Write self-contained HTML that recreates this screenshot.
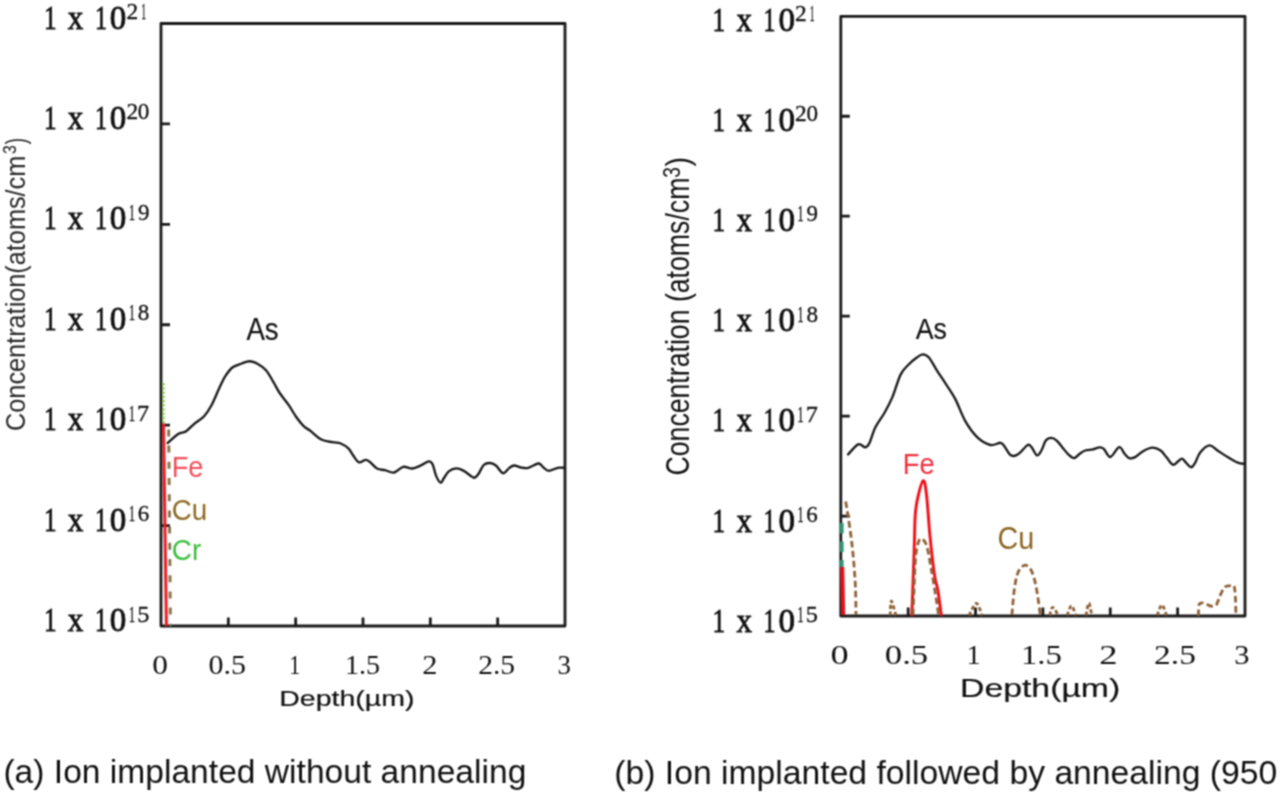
<!DOCTYPE html>
<html><head><meta charset="utf-8"><style>
html,body{margin:0;padding:0;background:#fff;}
svg{display:block;}
text{font-kerning:none;font-variant-ligatures:none;}
</style></head><body>
<svg width="1280" height="792" viewBox="0 0 1280 792">
<defs><filter id="soft" x="0" y="0" width="1280" height="792" filterUnits="userSpaceOnUse" color-interpolation-filters="sRGB"><feConvolveMatrix order="3" kernelMatrix="1 2 1 2 4 2 1 2 1" divisor="16" edgeMode="duplicate"/></filter></defs>
<g filter="url(#soft)">
<rect x="0" y="0" width="1280" height="792" fill="#fff"/>
<rect x="161.00" y="23.50" width="404.00" height="602.50" fill="none" stroke="#1a1a1a" stroke-width="2.8" stroke-linejoin="round"/>
<path d="M161.00 123.92H170.00 M161.00 224.33H170.00 M161.00 324.75H170.00 M161.00 425.17H170.00 M161.00 525.58H170.00 M228.33 626.00V617.50 M295.67 626.00V617.50 M363.00 626.00V617.50 M430.33 626.00V617.50 M497.67 626.00V617.50" stroke="#1a1a1a" stroke-width="2.8" fill="none"/>
<text x="43.88" y="28.60" font-family='"Liberation Serif", serif' font-size="33.00" textLength="12.64" lengthAdjust="spacingAndGlyphs" fill="#111" stroke="#111" stroke-width="0.80">1</text>
<text x="67.83" y="28.60" font-family='"Liberation Serif", serif' font-size="33.00" textLength="15.55" lengthAdjust="spacingAndGlyphs" fill="#111" stroke="#111" stroke-width="0.80">x</text>
<text x="94.90" y="28.60" font-family='"Liberation Serif", serif' font-size="33.00" textLength="11.93" lengthAdjust="spacingAndGlyphs" fill="#111" stroke="#111" stroke-width="0.80">1</text>
<text x="109.84" y="28.60" font-family='"Liberation Serif", serif' font-size="33.00" textLength="16.52" lengthAdjust="spacingAndGlyphs" fill="#111" stroke="#111" stroke-width="0.80">0</text>
<text x="126.47" y="19.00" font-family='"Liberation Serif", serif' font-size="23.60" textLength="11.72" lengthAdjust="spacingAndGlyphs" fill="#111" stroke="#111" stroke-width="0.30">2</text>
<text x="141.15" y="19.00" font-family='"Liberation Serif", serif' font-size="23.60" textLength="4.83" lengthAdjust="spacingAndGlyphs" fill="#111" stroke="#111" stroke-width="0.30">1</text>
<text x="43.88" y="129.02" font-family='"Liberation Serif", serif' font-size="33.00" textLength="12.64" lengthAdjust="spacingAndGlyphs" fill="#111" stroke="#111" stroke-width="0.80">1</text>
<text x="67.83" y="129.02" font-family='"Liberation Serif", serif' font-size="33.00" textLength="15.55" lengthAdjust="spacingAndGlyphs" fill="#111" stroke="#111" stroke-width="0.80">x</text>
<text x="94.90" y="129.02" font-family='"Liberation Serif", serif' font-size="33.00" textLength="11.93" lengthAdjust="spacingAndGlyphs" fill="#111" stroke="#111" stroke-width="0.80">1</text>
<text x="109.84" y="129.02" font-family='"Liberation Serif", serif' font-size="33.00" textLength="16.52" lengthAdjust="spacingAndGlyphs" fill="#111" stroke="#111" stroke-width="0.80">0</text>
<text x="126.47" y="119.42" font-family='"Liberation Serif", serif' font-size="23.60" textLength="11.72" lengthAdjust="spacingAndGlyphs" fill="#111" stroke="#111" stroke-width="0.30">2</text>
<text x="137.82" y="119.42" font-family='"Liberation Serif", serif' font-size="23.60" textLength="11.56" lengthAdjust="spacingAndGlyphs" fill="#111" stroke="#111" stroke-width="0.30">0</text>
<text x="43.88" y="229.43" font-family='"Liberation Serif", serif' font-size="33.00" textLength="12.64" lengthAdjust="spacingAndGlyphs" fill="#111" stroke="#111" stroke-width="0.80">1</text>
<text x="67.83" y="229.43" font-family='"Liberation Serif", serif' font-size="33.00" textLength="15.55" lengthAdjust="spacingAndGlyphs" fill="#111" stroke="#111" stroke-width="0.80">x</text>
<text x="94.90" y="229.43" font-family='"Liberation Serif", serif' font-size="33.00" textLength="11.93" lengthAdjust="spacingAndGlyphs" fill="#111" stroke="#111" stroke-width="0.80">1</text>
<text x="109.84" y="229.43" font-family='"Liberation Serif", serif' font-size="33.00" textLength="16.52" lengthAdjust="spacingAndGlyphs" fill="#111" stroke="#111" stroke-width="0.80">0</text>
<text x="128.68" y="219.83" font-family='"Liberation Serif", serif' font-size="23.60" textLength="6.39" lengthAdjust="spacingAndGlyphs" fill="#111" stroke="#111" stroke-width="0.30">1</text>
<text x="137.96" y="219.83" font-family='"Liberation Serif", serif' font-size="23.60" textLength="11.48" lengthAdjust="spacingAndGlyphs" fill="#111" stroke="#111" stroke-width="0.30">9</text>
<text x="43.88" y="329.85" font-family='"Liberation Serif", serif' font-size="33.00" textLength="12.64" lengthAdjust="spacingAndGlyphs" fill="#111" stroke="#111" stroke-width="0.80">1</text>
<text x="67.83" y="329.85" font-family='"Liberation Serif", serif' font-size="33.00" textLength="15.55" lengthAdjust="spacingAndGlyphs" fill="#111" stroke="#111" stroke-width="0.80">x</text>
<text x="94.90" y="329.85" font-family='"Liberation Serif", serif' font-size="33.00" textLength="11.93" lengthAdjust="spacingAndGlyphs" fill="#111" stroke="#111" stroke-width="0.80">1</text>
<text x="109.84" y="329.85" font-family='"Liberation Serif", serif' font-size="33.00" textLength="16.52" lengthAdjust="spacingAndGlyphs" fill="#111" stroke="#111" stroke-width="0.80">0</text>
<text x="128.68" y="320.25" font-family='"Liberation Serif", serif' font-size="23.60" textLength="6.39" lengthAdjust="spacingAndGlyphs" fill="#111" stroke="#111" stroke-width="0.30">1</text>
<text x="137.82" y="320.25" font-family='"Liberation Serif", serif' font-size="23.60" textLength="11.56" lengthAdjust="spacingAndGlyphs" fill="#111" stroke="#111" stroke-width="0.30">8</text>
<text x="43.88" y="430.27" font-family='"Liberation Serif", serif' font-size="33.00" textLength="12.64" lengthAdjust="spacingAndGlyphs" fill="#111" stroke="#111" stroke-width="0.80">1</text>
<text x="67.83" y="430.27" font-family='"Liberation Serif", serif' font-size="33.00" textLength="15.55" lengthAdjust="spacingAndGlyphs" fill="#111" stroke="#111" stroke-width="0.80">x</text>
<text x="94.90" y="430.27" font-family='"Liberation Serif", serif' font-size="33.00" textLength="11.93" lengthAdjust="spacingAndGlyphs" fill="#111" stroke="#111" stroke-width="0.80">1</text>
<text x="109.84" y="430.27" font-family='"Liberation Serif", serif' font-size="33.00" textLength="16.52" lengthAdjust="spacingAndGlyphs" fill="#111" stroke="#111" stroke-width="0.80">0</text>
<text x="128.68" y="420.67" font-family='"Liberation Serif", serif' font-size="23.60" textLength="6.39" lengthAdjust="spacingAndGlyphs" fill="#111" stroke="#111" stroke-width="0.30">1</text>
<text x="137.11" y="420.67" font-family='"Liberation Serif", serif' font-size="23.60" textLength="12.09" lengthAdjust="spacingAndGlyphs" fill="#111" stroke="#111" stroke-width="0.30">7</text>
<text x="43.88" y="530.68" font-family='"Liberation Serif", serif' font-size="33.00" textLength="12.64" lengthAdjust="spacingAndGlyphs" fill="#111" stroke="#111" stroke-width="0.80">1</text>
<text x="67.83" y="530.68" font-family='"Liberation Serif", serif' font-size="33.00" textLength="15.55" lengthAdjust="spacingAndGlyphs" fill="#111" stroke="#111" stroke-width="0.80">x</text>
<text x="94.90" y="530.68" font-family='"Liberation Serif", serif' font-size="33.00" textLength="11.93" lengthAdjust="spacingAndGlyphs" fill="#111" stroke="#111" stroke-width="0.80">1</text>
<text x="109.84" y="530.68" font-family='"Liberation Serif", serif' font-size="33.00" textLength="16.52" lengthAdjust="spacingAndGlyphs" fill="#111" stroke="#111" stroke-width="0.80">0</text>
<text x="128.68" y="521.08" font-family='"Liberation Serif", serif' font-size="23.60" textLength="6.39" lengthAdjust="spacingAndGlyphs" fill="#111" stroke="#111" stroke-width="0.30">1</text>
<text x="137.71" y="521.08" font-family='"Liberation Serif", serif' font-size="23.60" textLength="11.47" lengthAdjust="spacingAndGlyphs" fill="#111" stroke="#111" stroke-width="0.30">6</text>
<text x="43.88" y="631.10" font-family='"Liberation Serif", serif' font-size="33.00" textLength="12.64" lengthAdjust="spacingAndGlyphs" fill="#111" stroke="#111" stroke-width="0.80">1</text>
<text x="67.83" y="631.10" font-family='"Liberation Serif", serif' font-size="33.00" textLength="15.55" lengthAdjust="spacingAndGlyphs" fill="#111" stroke="#111" stroke-width="0.80">x</text>
<text x="94.90" y="631.10" font-family='"Liberation Serif", serif' font-size="33.00" textLength="11.93" lengthAdjust="spacingAndGlyphs" fill="#111" stroke="#111" stroke-width="0.80">1</text>
<text x="109.84" y="631.10" font-family='"Liberation Serif", serif' font-size="33.00" textLength="16.52" lengthAdjust="spacingAndGlyphs" fill="#111" stroke="#111" stroke-width="0.80">0</text>
<text x="128.68" y="621.50" font-family='"Liberation Serif", serif' font-size="23.60" textLength="6.39" lengthAdjust="spacingAndGlyphs" fill="#111" stroke="#111" stroke-width="0.30">1</text>
<text x="137.29" y="621.50" font-family='"Liberation Serif", serif' font-size="23.60" textLength="12.16" lengthAdjust="spacingAndGlyphs" fill="#111" stroke="#111" stroke-width="0.30">5</text>
<text x="152.20" y="673.80" font-family='"Liberation Serif", serif' font-size="27.00" textLength="15.69" lengthAdjust="spacingAndGlyphs" fill="#111">0</text>
<text x="208.46" y="673.80" font-family='"Liberation Serif", serif' font-size="27.00" textLength="37.52" lengthAdjust="spacingAndGlyphs" fill="#111">0.5</text>
<text x="289.25" y="673.80" font-family='"Liberation Serif", serif' font-size="27.00" textLength="11.08" lengthAdjust="spacingAndGlyphs" fill="#111">1</text>
<text x="344.93" y="673.80" font-family='"Liberation Serif", serif' font-size="27.00" textLength="35.06" lengthAdjust="spacingAndGlyphs" fill="#111">1.5</text>
<text x="422.26" y="673.80" font-family='"Liberation Serif", serif' font-size="27.00" textLength="15.22" lengthAdjust="spacingAndGlyphs" fill="#111">2</text>
<text x="478.20" y="673.80" font-family='"Liberation Serif", serif' font-size="27.00" textLength="36.95" lengthAdjust="spacingAndGlyphs" fill="#111">2.5</text>
<text x="557.41" y="673.80" font-family='"Liberation Serif", serif' font-size="27.00" textLength="13.44" lengthAdjust="spacingAndGlyphs" fill="#111">3</text>
<text x="279.26" y="705.80" font-family='"Liberation Sans", sans-serif' font-size="22.80" textLength="135.31" lengthAdjust="spacingAndGlyphs" fill="#111" stroke="#111" stroke-width="0.20">Depth(µm)</text>
<text transform="translate(24.60 429.70) rotate(-90)" x="-1.28" y="0.00" font-family='"Liberation Sans", sans-serif' font-size="27.00" textLength="275.25" lengthAdjust="spacingAndGlyphs" fill="#2a2a2a">Concentration(atoms/cm</text>
<text transform="translate(24.60 429.70) rotate(-90)" x="275.80" y="-8.40" font-family='"Liberation Sans", sans-serif' font-size="18.50" textLength="8.80" lengthAdjust="spacingAndGlyphs" fill="#111">3</text>
<text transform="translate(24.60 429.70) rotate(-90)" x="285.39" y="0.00" font-family='"Liberation Sans", sans-serif' font-size="27.40" textLength="6.28" lengthAdjust="spacingAndGlyphs" fill="#111">)</text>
<rect x="840.80" y="16.30" width="404.20" height="599.70" fill="none" stroke="#1a1a1a" stroke-width="2.8" stroke-linejoin="round"/>
<path d="M840.80 116.25H849.80 M840.80 216.20H849.80 M840.80 316.15H849.80 M840.80 416.10H849.80 M840.80 516.05H849.80 M908.17 616.00V607.50 M975.53 616.00V607.50 M1042.90 616.00V607.50 M1110.27 616.00V607.50 M1177.63 616.00V607.50" stroke="#1a1a1a" stroke-width="2.8" fill="none"/>
<text x="712.48" y="30.50" font-family='"Liberation Serif", serif' font-size="33.00" textLength="12.64" lengthAdjust="spacingAndGlyphs" fill="#111" stroke="#111" stroke-width="0.80">1</text>
<text x="736.43" y="30.50" font-family='"Liberation Serif", serif' font-size="33.00" textLength="15.55" lengthAdjust="spacingAndGlyphs" fill="#111" stroke="#111" stroke-width="0.80">x</text>
<text x="763.50" y="30.50" font-family='"Liberation Serif", serif' font-size="33.00" textLength="11.93" lengthAdjust="spacingAndGlyphs" fill="#111" stroke="#111" stroke-width="0.80">1</text>
<text x="778.44" y="30.50" font-family='"Liberation Serif", serif' font-size="33.00" textLength="16.52" lengthAdjust="spacingAndGlyphs" fill="#111" stroke="#111" stroke-width="0.80">0</text>
<text x="795.07" y="20.90" font-family='"Liberation Serif", serif' font-size="23.60" textLength="11.72" lengthAdjust="spacingAndGlyphs" fill="#111" stroke="#111" stroke-width="0.30">2</text>
<text x="809.75" y="20.90" font-family='"Liberation Serif", serif' font-size="23.60" textLength="4.83" lengthAdjust="spacingAndGlyphs" fill="#111" stroke="#111" stroke-width="0.30">1</text>
<text x="712.48" y="130.73" font-family='"Liberation Serif", serif' font-size="33.00" textLength="12.64" lengthAdjust="spacingAndGlyphs" fill="#111" stroke="#111" stroke-width="0.80">1</text>
<text x="736.43" y="130.73" font-family='"Liberation Serif", serif' font-size="33.00" textLength="15.55" lengthAdjust="spacingAndGlyphs" fill="#111" stroke="#111" stroke-width="0.80">x</text>
<text x="763.50" y="130.73" font-family='"Liberation Serif", serif' font-size="33.00" textLength="11.93" lengthAdjust="spacingAndGlyphs" fill="#111" stroke="#111" stroke-width="0.80">1</text>
<text x="778.44" y="130.73" font-family='"Liberation Serif", serif' font-size="33.00" textLength="16.52" lengthAdjust="spacingAndGlyphs" fill="#111" stroke="#111" stroke-width="0.80">0</text>
<text x="795.07" y="121.13" font-family='"Liberation Serif", serif' font-size="23.60" textLength="11.72" lengthAdjust="spacingAndGlyphs" fill="#111" stroke="#111" stroke-width="0.30">2</text>
<text x="806.42" y="121.13" font-family='"Liberation Serif", serif' font-size="23.60" textLength="11.56" lengthAdjust="spacingAndGlyphs" fill="#111" stroke="#111" stroke-width="0.30">0</text>
<text x="712.48" y="230.96" font-family='"Liberation Serif", serif' font-size="33.00" textLength="12.64" lengthAdjust="spacingAndGlyphs" fill="#111" stroke="#111" stroke-width="0.80">1</text>
<text x="736.43" y="230.96" font-family='"Liberation Serif", serif' font-size="33.00" textLength="15.55" lengthAdjust="spacingAndGlyphs" fill="#111" stroke="#111" stroke-width="0.80">x</text>
<text x="763.50" y="230.96" font-family='"Liberation Serif", serif' font-size="33.00" textLength="11.93" lengthAdjust="spacingAndGlyphs" fill="#111" stroke="#111" stroke-width="0.80">1</text>
<text x="778.44" y="230.96" font-family='"Liberation Serif", serif' font-size="33.00" textLength="16.52" lengthAdjust="spacingAndGlyphs" fill="#111" stroke="#111" stroke-width="0.80">0</text>
<text x="797.28" y="221.36" font-family='"Liberation Serif", serif' font-size="23.60" textLength="6.39" lengthAdjust="spacingAndGlyphs" fill="#111" stroke="#111" stroke-width="0.30">1</text>
<text x="806.56" y="221.36" font-family='"Liberation Serif", serif' font-size="23.60" textLength="11.48" lengthAdjust="spacingAndGlyphs" fill="#111" stroke="#111" stroke-width="0.30">9</text>
<text x="712.48" y="331.19" font-family='"Liberation Serif", serif' font-size="33.00" textLength="12.64" lengthAdjust="spacingAndGlyphs" fill="#111" stroke="#111" stroke-width="0.80">1</text>
<text x="736.43" y="331.19" font-family='"Liberation Serif", serif' font-size="33.00" textLength="15.55" lengthAdjust="spacingAndGlyphs" fill="#111" stroke="#111" stroke-width="0.80">x</text>
<text x="763.50" y="331.19" font-family='"Liberation Serif", serif' font-size="33.00" textLength="11.93" lengthAdjust="spacingAndGlyphs" fill="#111" stroke="#111" stroke-width="0.80">1</text>
<text x="778.44" y="331.19" font-family='"Liberation Serif", serif' font-size="33.00" textLength="16.52" lengthAdjust="spacingAndGlyphs" fill="#111" stroke="#111" stroke-width="0.80">0</text>
<text x="797.28" y="321.59" font-family='"Liberation Serif", serif' font-size="23.60" textLength="6.39" lengthAdjust="spacingAndGlyphs" fill="#111" stroke="#111" stroke-width="0.30">1</text>
<text x="806.42" y="321.59" font-family='"Liberation Serif", serif' font-size="23.60" textLength="11.56" lengthAdjust="spacingAndGlyphs" fill="#111" stroke="#111" stroke-width="0.30">8</text>
<text x="712.48" y="431.42" font-family='"Liberation Serif", serif' font-size="33.00" textLength="12.64" lengthAdjust="spacingAndGlyphs" fill="#111" stroke="#111" stroke-width="0.80">1</text>
<text x="736.43" y="431.42" font-family='"Liberation Serif", serif' font-size="33.00" textLength="15.55" lengthAdjust="spacingAndGlyphs" fill="#111" stroke="#111" stroke-width="0.80">x</text>
<text x="763.50" y="431.42" font-family='"Liberation Serif", serif' font-size="33.00" textLength="11.93" lengthAdjust="spacingAndGlyphs" fill="#111" stroke="#111" stroke-width="0.80">1</text>
<text x="778.44" y="431.42" font-family='"Liberation Serif", serif' font-size="33.00" textLength="16.52" lengthAdjust="spacingAndGlyphs" fill="#111" stroke="#111" stroke-width="0.80">0</text>
<text x="797.28" y="421.82" font-family='"Liberation Serif", serif' font-size="23.60" textLength="6.39" lengthAdjust="spacingAndGlyphs" fill="#111" stroke="#111" stroke-width="0.30">1</text>
<text x="805.71" y="421.82" font-family='"Liberation Serif", serif' font-size="23.60" textLength="12.09" lengthAdjust="spacingAndGlyphs" fill="#111" stroke="#111" stroke-width="0.30">7</text>
<text x="712.48" y="531.65" font-family='"Liberation Serif", serif' font-size="33.00" textLength="12.64" lengthAdjust="spacingAndGlyphs" fill="#111" stroke="#111" stroke-width="0.80">1</text>
<text x="736.43" y="531.65" font-family='"Liberation Serif", serif' font-size="33.00" textLength="15.55" lengthAdjust="spacingAndGlyphs" fill="#111" stroke="#111" stroke-width="0.80">x</text>
<text x="763.50" y="531.65" font-family='"Liberation Serif", serif' font-size="33.00" textLength="11.93" lengthAdjust="spacingAndGlyphs" fill="#111" stroke="#111" stroke-width="0.80">1</text>
<text x="778.44" y="531.65" font-family='"Liberation Serif", serif' font-size="33.00" textLength="16.52" lengthAdjust="spacingAndGlyphs" fill="#111" stroke="#111" stroke-width="0.80">0</text>
<text x="797.28" y="522.05" font-family='"Liberation Serif", serif' font-size="23.60" textLength="6.39" lengthAdjust="spacingAndGlyphs" fill="#111" stroke="#111" stroke-width="0.30">1</text>
<text x="806.31" y="522.05" font-family='"Liberation Serif", serif' font-size="23.60" textLength="11.47" lengthAdjust="spacingAndGlyphs" fill="#111" stroke="#111" stroke-width="0.30">6</text>
<text x="712.48" y="631.88" font-family='"Liberation Serif", serif' font-size="33.00" textLength="12.64" lengthAdjust="spacingAndGlyphs" fill="#111" stroke="#111" stroke-width="0.80">1</text>
<text x="736.43" y="631.88" font-family='"Liberation Serif", serif' font-size="33.00" textLength="15.55" lengthAdjust="spacingAndGlyphs" fill="#111" stroke="#111" stroke-width="0.80">x</text>
<text x="763.50" y="631.88" font-family='"Liberation Serif", serif' font-size="33.00" textLength="11.93" lengthAdjust="spacingAndGlyphs" fill="#111" stroke="#111" stroke-width="0.80">1</text>
<text x="778.44" y="631.88" font-family='"Liberation Serif", serif' font-size="33.00" textLength="16.52" lengthAdjust="spacingAndGlyphs" fill="#111" stroke="#111" stroke-width="0.80">0</text>
<text x="797.28" y="622.28" font-family='"Liberation Serif", serif' font-size="23.60" textLength="6.39" lengthAdjust="spacingAndGlyphs" fill="#111" stroke="#111" stroke-width="0.30">1</text>
<text x="805.89" y="622.28" font-family='"Liberation Serif", serif' font-size="23.60" textLength="12.16" lengthAdjust="spacingAndGlyphs" fill="#111" stroke="#111" stroke-width="0.30">5</text>
<text x="830.62" y="664.00" font-family='"Liberation Serif", serif' font-size="27.00" textLength="18.17" lengthAdjust="spacingAndGlyphs" fill="#111">0</text>
<text x="884.78" y="664.00" font-family='"Liberation Serif", serif' font-size="27.00" textLength="43.48" lengthAdjust="spacingAndGlyphs" fill="#111">0.5</text>
<text x="966.50" y="664.00" font-family='"Liberation Serif", serif' font-size="27.00" textLength="14.20" lengthAdjust="spacingAndGlyphs" fill="#111">1</text>
<text x="1020.91" y="664.00" font-family='"Liberation Serif", serif' font-size="27.00" textLength="41.07" lengthAdjust="spacingAndGlyphs" fill="#111">1.5</text>
<text x="1099.19" y="664.00" font-family='"Liberation Serif", serif' font-size="27.00" textLength="18.33" lengthAdjust="spacingAndGlyphs" fill="#111">2</text>
<text x="1154.13" y="664.00" font-family='"Liberation Serif", serif' font-size="27.00" textLength="41.77" lengthAdjust="spacingAndGlyphs" fill="#111">2.5</text>
<text x="1234.34" y="664.00" font-family='"Liberation Serif", serif' font-size="27.00" textLength="15.25" lengthAdjust="spacingAndGlyphs" fill="#111">3</text>
<text x="960.03" y="697.30" font-family='"Liberation Sans", sans-serif' font-size="26.50" textLength="160.27" lengthAdjust="spacingAndGlyphs" fill="#111" stroke="#111" stroke-width="0.20">Depth(µm)</text>
<text transform="translate(689.30 474.20) rotate(-90)" x="-1.35" y="0.00" font-family='"Liberation Sans", sans-serif' font-size="32.50" textLength="297.91" lengthAdjust="spacingAndGlyphs" fill="#111">Concentration (atoms/cm</text>
<text transform="translate(689.30 474.20) rotate(-90)" x="296.37" y="-9.00" font-family='"Liberation Sans", sans-serif' font-size="23.60" textLength="10.67" lengthAdjust="spacingAndGlyphs" fill="#111">3</text>
<text transform="translate(689.30 474.20) rotate(-90)" x="307.63" y="0.00" font-family='"Liberation Sans", sans-serif' font-size="33.30" textLength="9.55" lengthAdjust="spacingAndGlyphs" fill="#111">)</text>
<path d="M167.60 443.00 C169.37 441.48 175.17 435.83 178.20 433.90 C181.23 431.97 183.03 433.17 185.80 431.40 C188.57 429.63 191.78 425.78 194.80 423.30 C197.82 420.82 201.12 419.52 203.90 416.50 C206.68 413.48 208.97 409.87 211.50 405.20 C214.03 400.53 216.82 393.30 219.10 388.50 C221.38 383.70 222.93 379.93 225.20 376.40 C227.47 372.87 229.93 369.45 232.70 367.30 C235.47 365.15 239.02 364.52 241.80 363.50 C244.58 362.48 246.87 361.20 249.40 361.20 C251.93 361.20 254.23 361.98 257.00 363.50 C259.77 365.02 263.23 367.15 266.00 370.30 C268.77 373.45 271.32 378.62 273.60 382.40 C275.88 386.18 277.17 389.20 279.70 393.00 C282.23 396.80 286.02 401.15 288.80 405.20 C291.58 409.25 293.88 413.77 296.40 417.30 C298.92 420.83 301.63 424.20 303.90 426.40 C306.17 428.60 307.08 428.32 310.00 430.50 C312.92 432.68 317.62 437.55 321.40 439.50 C325.18 441.45 329.48 441.53 332.70 442.20 C335.92 442.87 338.05 442.43 340.70 443.50 C343.35 444.57 346.52 446.60 348.60 448.60 C350.68 450.60 351.48 453.22 353.20 455.50 C354.92 457.78 356.82 461.58 358.90 462.30 C360.98 463.02 363.82 459.80 365.70 459.80 C367.58 459.80 368.32 460.85 370.20 462.30 C372.08 463.75 374.53 467.18 377.00 468.50 C379.47 469.82 382.15 469.53 385.00 470.20 C387.85 470.87 391.07 473.07 394.10 472.50 C397.13 471.93 400.17 467.47 403.20 466.80 C406.23 466.13 409.27 468.78 412.30 468.50 C415.33 468.22 418.65 466.28 421.40 465.10 C424.15 463.92 426.92 461.50 428.80 461.40 C430.68 461.30 431.48 462.08 432.70 464.50 C433.92 466.92 434.77 472.87 436.10 475.90 C437.43 478.93 439.37 482.40 440.70 482.70 C442.03 483.00 442.70 479.63 444.10 477.70 C445.50 475.77 447.07 472.65 449.10 471.10 C451.13 469.55 453.92 468.48 456.30 468.40 C458.68 468.32 461.03 469.38 463.40 470.60 C465.77 471.82 468.65 474.52 470.50 475.70 C472.35 476.88 473.15 478.03 474.50 477.70 C475.85 477.37 477.07 475.82 478.60 473.70 C480.13 471.58 481.83 466.78 483.70 465.00 C485.57 463.22 487.77 462.92 489.80 463.00 C491.83 463.08 493.70 463.80 495.90 465.50 C498.10 467.20 500.80 472.77 503.00 473.20 C505.20 473.63 507.25 469.38 509.10 468.10 C510.95 466.82 512.07 465.58 514.10 465.50 C516.13 465.42 519.10 467.17 521.30 467.60 C523.50 468.03 525.28 468.45 527.30 468.10 C529.32 467.75 531.45 466.27 533.40 465.50 C535.35 464.73 537.30 463.15 539.00 463.50 C540.70 463.85 541.98 466.38 543.60 467.60 C545.22 468.82 546.33 470.77 548.70 470.80 C551.07 470.83 555.18 468.30 557.80 467.80 C560.42 467.30 563.30 467.80 564.40 467.80" stroke="#1a1a1a" stroke-width="2.35" fill="none" stroke-linejoin="round" stroke-linecap="round"/>
<path d="M848.10 454.40 C849.78 452.72 855.33 445.47 858.20 444.30 C861.07 443.13 863.45 447.57 865.30 447.40 C867.15 447.23 867.62 446.67 869.30 443.30 C870.98 439.93 872.88 432.25 875.40 427.20 C877.92 422.15 881.55 418.05 884.40 413.00 C887.25 407.95 889.80 403.30 892.50 396.90 C895.20 390.50 897.90 380.00 900.60 374.60 C903.30 369.20 906.00 367.35 908.70 364.50 C911.40 361.65 914.45 359.18 916.80 357.50 C919.15 355.82 920.78 354.40 922.80 354.40 C924.82 354.40 926.53 354.80 928.90 357.50 C931.27 360.20 934.32 366.40 937.00 370.60 C939.68 374.80 941.97 377.98 945.00 382.70 C948.03 387.42 951.82 392.50 955.20 398.90 C958.58 405.30 961.60 414.70 965.30 421.10 C969.00 427.50 973.20 433.32 977.40 437.30 C981.60 441.28 986.67 444.08 990.50 445.00 C994.33 445.92 998.12 442.62 1000.40 442.80 C1002.68 442.98 1002.65 444.18 1004.20 446.10 C1005.75 448.02 1008.05 452.65 1009.70 454.30 C1011.35 455.95 1012.47 456.18 1014.10 456.00 C1015.73 455.82 1017.23 455.03 1019.50 453.20 C1021.77 451.37 1025.68 446.00 1027.70 445.00 C1029.72 444.00 1030.05 445.47 1031.60 447.20 C1033.15 448.93 1035.37 454.85 1037.00 455.40 C1038.63 455.95 1039.93 452.97 1041.40 450.50 C1042.87 448.03 1044.15 442.70 1045.80 440.60 C1047.45 438.50 1049.48 437.90 1051.30 437.90 C1053.12 437.90 1054.88 439.05 1056.70 440.60 C1058.52 442.15 1060.18 444.82 1062.20 447.20 C1064.22 449.58 1066.80 453.08 1068.80 454.90 C1070.80 456.72 1072.38 458.28 1074.20 458.10 C1076.02 457.92 1077.87 455.07 1079.70 453.80 C1081.53 452.53 1083.02 451.23 1085.20 450.50 C1087.38 449.77 1090.43 449.92 1092.80 449.40 C1095.17 448.88 1097.57 447.50 1099.40 447.40 C1101.23 447.30 1101.98 447.20 1103.80 448.80 C1105.62 450.40 1107.75 457.27 1110.30 457.00 C1112.85 456.73 1116.72 447.73 1119.10 447.20 C1121.48 446.67 1122.93 451.98 1124.60 453.80 C1126.27 455.62 1127.33 457.55 1129.10 458.10 C1130.87 458.65 1132.82 458.28 1135.20 457.10 C1137.58 455.92 1140.52 452.58 1143.40 451.00 C1146.28 449.42 1149.63 447.68 1152.50 447.60 C1155.37 447.52 1158.23 448.83 1160.60 450.50 C1162.97 452.17 1164.67 455.23 1166.70 457.60 C1168.73 459.97 1170.93 464.03 1172.80 464.70 C1174.67 465.37 1176.37 462.62 1177.90 461.60 C1179.43 460.58 1180.65 458.42 1182.00 458.60 C1183.35 458.78 1184.48 461.27 1186.00 462.70 C1187.52 464.13 1189.57 467.20 1191.10 467.20 C1192.63 467.20 1193.68 465.15 1195.20 462.70 C1196.72 460.25 1197.83 455.38 1200.20 452.50 C1202.57 449.62 1206.52 445.73 1209.40 445.40 C1212.28 445.07 1214.45 448.55 1217.50 450.50 C1220.55 452.45 1224.32 455.07 1227.70 457.10 C1231.08 459.13 1235.02 461.57 1237.80 462.70 C1240.58 463.83 1243.30 463.70 1244.40 463.90" stroke="#1a1a1a" stroke-width="2.35" fill="none" stroke-linejoin="round" stroke-linecap="round"/>
<path d="M163.4 383 V423" stroke="#8fcf4f" stroke-width="2.6" stroke-dasharray="2.6 1.6" fill="none"/>
<path d="M163.5 423.5 L166.4 626" stroke="#ee1c24" stroke-width="3" fill="none"/>
<path d="M168.6 426 L170.4 626" stroke="#857650" stroke-width="3" stroke-dasharray="7 9.2" stroke-dashoffset="12.8" fill="none"/>
<text x="246.45" y="339.70" font-family='"Liberation Sans", sans-serif' font-size="31.00" textLength="32.25" lengthAdjust="spacingAndGlyphs" fill="#111" stroke="#111" stroke-width="0.15">As</text>
<text x="171.66" y="477.40" font-family='"Liberation Sans", sans-serif' font-size="29.00" textLength="31.85" lengthAdjust="spacingAndGlyphs" fill="#f0505c">Fe</text>
<text x="171.79" y="520.00" font-family='"Liberation Sans", sans-serif' font-size="30.00" textLength="35.56" lengthAdjust="spacingAndGlyphs" fill="#8c6a22">Cu</text>
<text x="171.78" y="560.20" font-family='"Liberation Sans", sans-serif' font-size="29.00" textLength="29.48" lengthAdjust="spacingAndGlyphs" fill="#3cbf3c">Cr</text>
<path d="M841.8 523 V567" stroke="#2a9674" stroke-width="3.6" stroke-dasharray="10.5 8" fill="none"/>
<path d="M842.2 567 L843.2 615" stroke="#e8101a" stroke-width="4" fill="none"/>
<path d="M845.70 501.50 C846.10 503.97 847.15 510.00 848.10 516.30 C849.05 522.60 850.43 531.37 851.40 539.30 C852.37 547.23 853.22 555.70 853.90 563.90 C854.58 572.10 855.15 579.98 855.50 588.50 C855.85 597.02 855.92 610.58 856.00 615.00" stroke="#8e6238" stroke-width="2.8" stroke-dasharray="6.5 3.5" fill="none"/>
<path d="M911.80 615.90 C912.18 605.30 913.53 568.97 914.10 552.30 C914.67 535.63 914.63 524.80 915.20 515.90 C915.77 507.00 916.17 504.77 917.50 498.90 C918.83 493.03 921.68 481.27 923.20 480.70 C924.72 480.13 925.47 486.22 926.60 495.50 C927.73 504.78 928.68 523.15 930.00 536.40 C931.32 549.65 933.17 565.92 934.50 575.00 C935.83 584.08 936.85 584.08 938.00 590.90 C939.15 597.72 940.83 611.73 941.40 615.90" stroke="#f01018" stroke-width="2.9" fill="none" stroke-linejoin="round"/>
<path d="M913.00 615.00 C913.37 606.43 914.45 575.18 915.20 563.60 C915.95 552.02 916.55 549.67 917.50 545.50 C918.45 541.33 919.38 538.60 920.90 538.60 C922.42 538.60 924.90 540.57 926.60 545.50 C928.30 550.43 929.58 559.87 931.10 568.20 C932.62 576.53 934.45 587.70 935.70 595.50 C936.95 603.30 938.12 611.75 938.60 615.00" stroke="#8e6238" stroke-width="2.8" stroke-dasharray="6.5 3.5" fill="none"/>
<path d="M1011.90 615.00 C1012.27 611.05 1013.25 597.92 1014.10 591.30 C1014.95 584.68 1015.90 579.17 1017.00 575.30 C1018.10 571.43 1019.25 569.78 1020.70 568.10 C1022.15 566.42 1024.02 564.97 1025.70 565.20 C1027.38 565.43 1029.33 567.08 1030.80 569.50 C1032.27 571.92 1033.40 575.58 1034.50 579.70 C1035.60 583.82 1036.43 588.32 1037.40 594.20 C1038.37 600.08 1039.82 611.53 1040.30 615.00" stroke="#8e6238" stroke-width="2.8" stroke-dasharray="6.5 3.5" fill="none"/>
<path d="M890.20 615.50 C890.40 613.08 890.45 601.00 891.40 601.00 C892.35 601.00 895.15 613.08 895.90 615.50" stroke="#8e6238" stroke-width="2.8" stroke-dasharray="4 2.5" fill="none"/>
<path d="M969.00 615.50 C970.23 613.47 974.23 603.30 976.40 603.30 C978.57 603.30 981.07 613.47 982.00 615.50" stroke="#8e6238" stroke-width="2.8" stroke-dasharray="4 2.5" fill="none"/>
<path d="M1049.70 615.50 C1050.18 614.13 1051.15 607.30 1052.60 607.30 C1054.05 607.30 1057.43 614.13 1058.40 615.50" stroke="#8e6238" stroke-width="2.8" stroke-dasharray="4 2.5" fill="none"/>
<path d="M1067.10 615.50 C1067.83 613.88 1070.05 605.80 1071.50 605.80 C1072.95 605.80 1075.08 613.88 1075.80 615.50" stroke="#8e6238" stroke-width="2.8" stroke-dasharray="4 2.5" fill="none"/>
<path d="M1086.00 615.50 C1086.48 613.42 1087.93 603.00 1088.90 603.00 C1089.87 603.00 1091.32 613.42 1091.80 615.50" stroke="#8e6238" stroke-width="2.8" stroke-dasharray="4 2.5" fill="none"/>
<path d="M1157.20 615.50 C1157.98 613.75 1160.33 605.00 1161.90 605.00 C1163.47 605.00 1165.82 613.75 1166.60 615.50" stroke="#8e6238" stroke-width="2.8" stroke-dasharray="4 2.5" fill="none"/>
<path d="M1198.40 616.00 C1198.57 614.00 1198.30 606.07 1199.40 604.00 C1200.50 601.93 1203.13 603.27 1205.00 603.60 C1206.87 603.93 1208.73 605.77 1210.60 606.00 C1212.47 606.23 1214.63 606.73 1216.20 605.00 C1217.77 603.27 1218.58 598.57 1220.00 595.60 C1221.42 592.63 1223.15 588.83 1224.70 587.20 C1226.25 585.57 1227.75 585.97 1229.30 585.80 C1230.85 585.63 1232.98 584.25 1234.00 586.20 C1235.02 588.15 1235.08 592.65 1235.40 597.50 C1235.72 602.35 1235.82 612.33 1235.90 615.30" stroke="#8e6238" stroke-width="2.8" stroke-dasharray="6.5 3.5" fill="none"/>
<text x="915.75" y="339.30" font-family='"Liberation Sans", sans-serif' font-size="30.00" textLength="31.22" lengthAdjust="spacingAndGlyphs" fill="#111" stroke="#111" stroke-width="0.15">As</text>
<text x="902.76" y="473.90" font-family='"Liberation Sans", sans-serif' font-size="29.00" textLength="31.85" lengthAdjust="spacingAndGlyphs" fill="#f0303e">Fe</text>
<text x="997.44" y="549.20" font-family='"Liberation Sans", sans-serif' font-size="30.50" textLength="36.77" lengthAdjust="spacingAndGlyphs" fill="#8c6522">Cu</text>
<text x="3.42" y="782.80" font-family='"Liberation Sans", sans-serif' font-size="33.00" textLength="522.95" lengthAdjust="spacingAndGlyphs" fill="#111">(a) Ion implanted without annealing</text>
<text x="614.31" y="784.00" font-family='"Liberation Sans", sans-serif' font-size="33.00" textLength="663.01" lengthAdjust="spacingAndGlyphs" fill="#111">(b) Ion implanted followed by annealing (950</text>
</g>
</svg>
</body></html>
